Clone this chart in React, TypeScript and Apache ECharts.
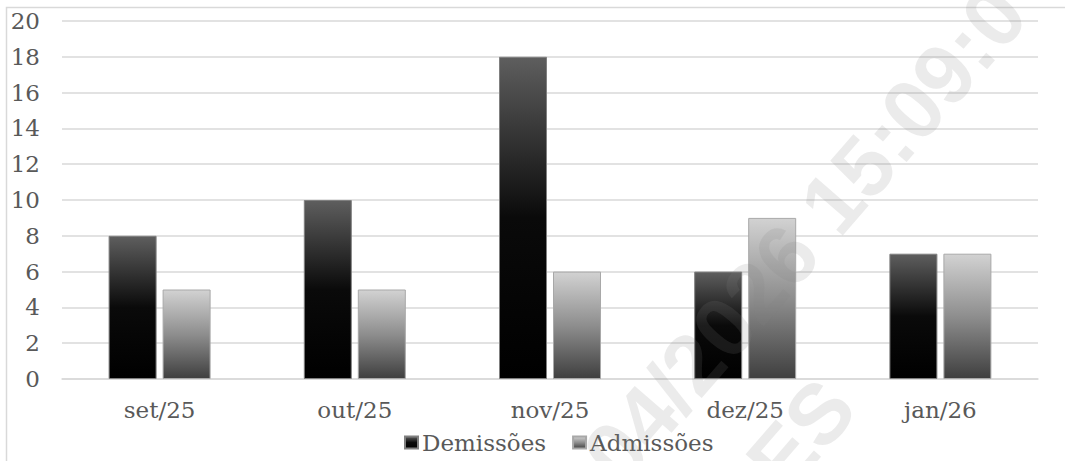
import React, { useEffect, useRef } from "react";
import * as echarts from "echarts";

const categories = ["set/25", "out/25", "nov/25", "dez/25", "jan/26"];
const demissoes = [8, 10, 18, 6, 7];
const admissoes = [5, 5, 6, 9, 7];
const yMin = 0;
const yMax = 20;
const yStep = 2;

const FONT = "DejaVu Serif";
const TEXT = "#595959";
const GRID = "#d9d9d9";
const STAMP = "rgba(128,128,128,0.16)";

export default function App() {
  const ref = useRef<HTMLDivElement>(null);

  useEffect(() => {
    if (!ref.current) return;
    const chart = echarts.init(ref.current, undefined, { renderer: "svg" });
    const deg = (d: number) => (d * Math.PI) / 180;

    const darkFill = new echarts.graphic.LinearGradient(0, 0, 0, 1, [
      { offset: 0, color: "#5e5e5e" },
      { offset: 0.5, color: "#0a0a0a" },
      { offset: 1, color: "#000000" },
    ]);
    const lightFill = new echarts.graphic.LinearGradient(0, 0, 0, 1, [
      { offset: 0, color: "#d2d2d2" },
      { offset: 0.5, color: "#8e8e8e" },
      { offset: 1, color: "#3f3f3f" },
    ]);

    chart.setOption({
      animation: false,
      backgroundColor: "#ffffff",
      textStyle: { fontFamily: FONT },
      grid: { left: 62, right: 27, top: 21, bottom: 82 },
      legend: {
        data: ["Demissões", "Admissões"],
        left: 399,
        top: 426,
        icon: "rect",
        itemWidth: 13,
        itemHeight: 12,
        itemGap: 26,
        textStyle: { fontFamily: FONT, fontSize: 23, color: TEXT, padding: [0, 0, 0, -1] },
      },
      xAxis: {
        type: "category",
        data: categories,
        axisLine: { show: true, lineStyle: { color: GRID, width: 1.5 } },
        axisTick: { show: false },
        axisLabel: { fontFamily: FONT, fontSize: 23, color: TEXT, margin: 19 },
      },
      yAxis: {
        type: "value",
        min: yMin,
        max: yMax,
        interval: yStep,
        axisLine: { show: false },
        axisTick: { show: false },
        splitLine: { lineStyle: { color: GRID, width: 1.5 } },
        axisLabel: { fontFamily: FONT, fontSize: 23, color: TEXT, margin: 22 },
      },
      series: [
        {
          name: "Demissões",
          type: "bar",
          data: demissoes,
          barWidth: 48,
          barGap: "12.5%",
          itemStyle: { color: darkFill, borderColor: "#808080", borderWidth: 1 },
        },
        {
          name: "Admissões",
          type: "bar",
          data: admissoes,
          barWidth: 48,
          barGap: "12.5%",
          itemStyle: { color: lightFill, borderColor: "#a8a8a8", borderWidth: 1 },
        },
      ],
      graphic: [
        {
          type: "rect",
          silent: true,
          z: -1,
          shape: { x: 6.5, y: 7.5, width: 1200, height: 600 },
          style: { fill: "none", stroke: GRID, lineWidth: 1.5 },
        },
        {
          type: "text",
          silent: true,
          z: 100,
          x: 600,
          y: 470,
          rotation: deg(49),
          style: {
            text: "04/2026 15:09:0",
            font: "bold 85px 'Liberation Sans'",
            fill: STAMP,
            textAlign: "left",
            textVerticalAlign: "middle",
          },
        },
        {
          type: "text",
          silent: true,
          z: 100,
          x: 838,
          y: 392,
          rotation: deg(49),
          style: {
            text: "ES",
            font: "bold 85px 'Liberation Sans'",
            fill: STAMP,
            textAlign: "right",
            textVerticalAlign: "middle",
          },
        },
      ],
    });

    return () => chart.dispose();
  }, []);

  return (
    <div
      ref={ref}
      style={{ position: "absolute", left: 0, top: 0, width: 1065, height: 461 }}
    />
  );
}
